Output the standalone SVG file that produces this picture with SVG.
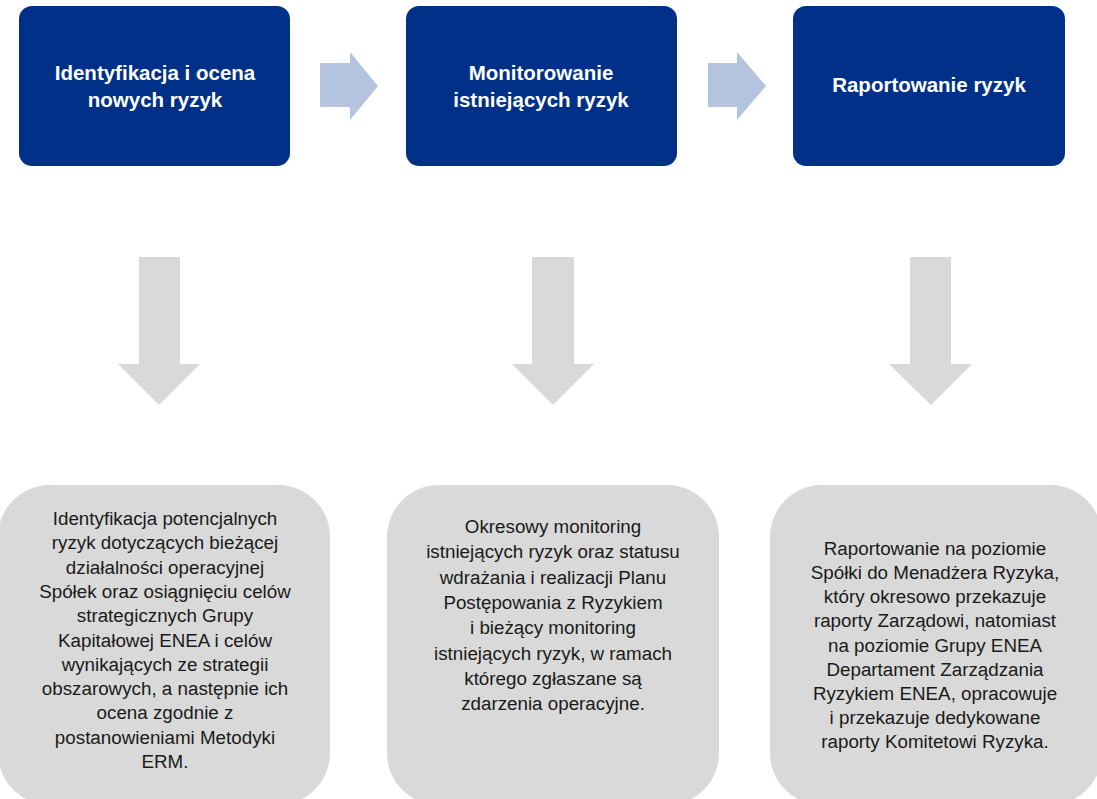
<svg xmlns="http://www.w3.org/2000/svg" width="1097" height="799" viewBox="0 0 1097 799">
<style>
.top{fill:#003087}
.toptxt{font-family:"Liberation Sans",Arial,sans-serif;font-weight:bold;font-size:20.5px;fill:#ffffff;text-anchor:middle}
.bot{fill:#d9d9d9}
.bottxt{font-family:"Liberation Sans",Arial,sans-serif;font-size:18.8px;fill:#1a1a1a;text-anchor:middle}
.harrow{fill:#b4c4df}
.varrow{fill:#d9d9d9}
</style>
<rect width="1097" height="799" fill="#ffffff"/>
<g id="connectors">
<polygon class="harrow" points="320,63 350,63 350,52 378,86 350,120 350,107 320,107"/>
<polygon class="harrow" points="708,63 737,63 737,52 766,86 737,120 737,107 708,107"/>
<polygon class="varrow" points="139,257 180,257 180,364 200,364 159,405 118,364 139,364"/>
<polygon class="varrow" points="532,257 574,257 574,364 594,364 553,405 512,364 532,364"/>
<polygon class="varrow" points="910,257 951,257 951,364 972,364 931,405 889,364 910,364"/>
</g>
<g id="node-identyfikacja">
<rect class="top" x="19" y="6" width="271" height="160" rx="13"/>
<text class="toptxt" x="155" y="80">Identyfikacja i ocena</text>
<text class="toptxt" x="155" y="107">nowych ryzyk</text>
</g>
<g id="node-monitorowanie">
<rect class="top" x="406" y="6" width="271" height="160" rx="13"/>
<text class="toptxt" x="541" y="80">Monitorowanie</text>
<text class="toptxt" x="541" y="107">istniejących ryzyk</text>
</g>
<g id="node-raportowanie">
<rect class="top" x="793" y="6" width="272" height="160" rx="13"/>
<text class="toptxt" x="929" y="92">Raportowanie ryzyk</text>
</g>
<g id="desc-identyfikacja">
<rect class="bot" x="-2" y="485" width="332" height="320" rx="52"/>
<text class="bottxt" x="165" y="525">Identyfikacja potencjalnych</text>
<text class="bottxt" x="165" y="549.3">ryzyk dotyczących bieżącej</text>
<text class="bottxt" x="165" y="573.6">działalności operacyjnej</text>
<text class="bottxt" x="165" y="597.9">Spółek oraz osiągnięciu celów</text>
<text class="bottxt" x="165" y="622.2">strategicznych Grupy</text>
<text class="bottxt" x="165" y="646.5">Kapitałowej ENEA i celów</text>
<text class="bottxt" x="165" y="670.8">wynikających ze strategii</text>
<text class="bottxt" x="165" y="695.1">obszarowych, a następnie ich</text>
<text class="bottxt" x="165" y="719.4">ocena zgodnie z</text>
<text class="bottxt" x="165" y="743.7">postanowieniami Metodyki</text>
<text class="bottxt" x="165" y="768">ERM.</text>
</g>
<g id="desc-monitorowanie">
<rect class="bot" x="387" y="485" width="332" height="320" rx="52"/>
<text class="bottxt" x="553" y="533">Okresowy monitoring</text>
<text class="bottxt" x="553" y="558.3">istniejących ryzyk oraz statusu</text>
<text class="bottxt" x="553" y="583.6">wdrażania i realizacji Planu</text>
<text class="bottxt" x="553" y="608.9">Postępowania z Ryzykiem</text>
<text class="bottxt" x="553" y="634.2">i bieżący monitoring</text>
<text class="bottxt" x="553" y="659.5">istniejących ryzyk, w ramach</text>
<text class="bottxt" x="553" y="684.8">którego zgłaszane są</text>
<text class="bottxt" x="553" y="710">zdarzenia operacyjne.</text>
</g>
<g id="desc-raportowanie">
<rect class="bot" x="770" y="485" width="332" height="320" rx="52"/>
<text class="bottxt" x="935" y="555">Raportowanie na poziomie</text>
<text class="bottxt" x="935" y="579.1">Spółki do Menadżera Ryzyka,</text>
<text class="bottxt" x="935" y="603.2">który okresowo przekazuje</text>
<text class="bottxt" x="935" y="627.4">raporty Zarządowi, natomiast</text>
<text class="bottxt" x="935" y="651.5">na poziomie Grupy ENEA</text>
<text class="bottxt" x="935" y="675.6">Departament Zarządzania</text>
<text class="bottxt" x="935" y="699.7">Ryzykiem ENEA, opracowuje</text>
<text class="bottxt" x="935" y="723.9">i przekazuje dedykowane</text>
<text class="bottxt" x="935" y="748">raporty Komitetowi Ryzyka.</text>
</g>
</svg>
